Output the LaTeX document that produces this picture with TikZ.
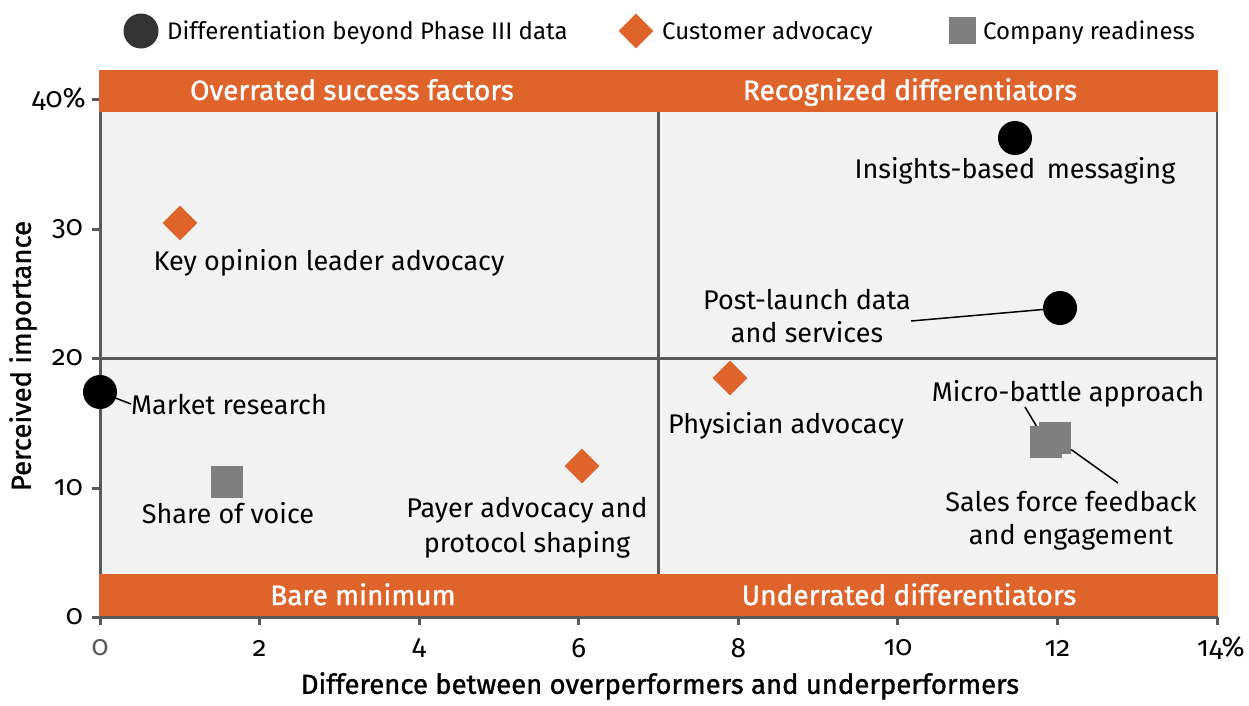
\documentclass[tikz,border=0pt]{standalone}
\usepackage{fontspec}
\setmainfont{Fira Sans}[Numbers=OldStyle]
\newfontfamily\medfont{Fira Sans}[Numbers=OldStyle,FakeBold=1.2]
\usetikzlibrary{shapes.geometric}
\definecolor{org}{HTML}{DF642B}
\definecolor{bg}{HTML}{F2F2F2}
\definecolor{ax}{HTML}{595959}
\definecolor{sq}{HTML}{7F7F7F}
\definecolor{lg}{HTML}{333333}
\begin{document}
\begin{tikzpicture}[x=1pt,y=-1pt,
  lbl/.style={font=\fontsize{27}{33}\selectfont, inner sep=0pt, align=center, text=black},
  lgd/.style={font=\fontsize{24}{29}\selectfont, inner sep=0pt, anchor=base west},
  band/.style={font=\medfont\fontsize{28}{33}\selectfont, inner sep=0pt, text=white, anchor=base},
  tick/.style={font=\fontsize{28}{33}\selectfont, inner sep=0pt},
  atitle/.style={font=\medfont\fontsize{27.5}{32}\selectfont, inner sep=0pt},
  dot/.style={circle, fill=black, minimum size=34pt, inner sep=0pt},
  dia/.style={rectangle, rotate=45, fill=org, minimum size=24.5pt, inner sep=0pt},
  sqr/.style={rectangle, fill=sq, minimum size=32pt, inner sep=0pt},
  grid/.style={draw=ax, line width=3pt},
  lead/.style={draw=black, line width=1.5pt}]
\useasboundingbox (0,0) rectangle (1249,705);
\fill[white] (0,0) rectangle (1249,705);

% legend
\node[circle, fill=lg, minimum size=35pt, inner sep=0pt] (lgc) at (141,31) {};
\node[lgd] (lgct) at (167,39) {Differentiation beyond Phase III data};
\node[rectangle, rotate=45, fill=org, minimum size=24.5pt, inner sep=0pt] (lgd) at (636,31) {};
\node[lgd] (lgdt) at (662,39) {Customer advocacy};
\node[rectangle, fill=sq, minimum size=27pt, inner sep=0pt] (lgs) at (962,30) {};
\node[lgd] (lgst) at (983,39) {Company readiness};

% plot area
\fill[bg] (100,99) rectangle (1217,617);
\draw[grid] (658,112) -- (658,574);
\draw[grid] (100,358) -- (1217,358);
\draw[draw=ax, line width=2pt] (1217,112) -- (1217,617);
\draw[grid] (100,99) -- (100,617) -- (1217,617);
\foreach \y in {99,229,358,488,617} \draw[grid] (92,\y) -- (100,\y);
\foreach \x in {100,259.6,419.1,578.7,738.3,897.9,1057.4,1217} \draw[grid] (\x,617) -- (\x,625);

% bands
\fill[org] (99,70) rectangle (1218,112);
\fill[org] (99,574) rectangle (1218,616);
\node[band] (b1) at (352,100) {Overrated success factors};
\node[band] (b2) at (910,100) {Recognized differentiators};
\node[band] (b3) at (363,605) {Bare minimum};
\node[band] (b4) at (909,605) {Underrated differentiators};

% tick labels
\node[tick, anchor=east] (t40) at (86,99) {40\%};
\node[tick, anchor=east] (t30) at (83,229) {30};
\node[tick, anchor=east] (t20) at (83,358) {20};
\node[tick, anchor=east] (t10) at (83,488) {10};
\node[tick, anchor=east] (t0) at (83,617) {0};
\node[tick, text=ax] (x0) at (100,648) {0};
\node[tick] (x2) at (259.6,648) {2};
\node[tick] (x4) at (419.1,648) {4};
\node[tick] (x6) at (578.7,648) {6};
\node[tick] (x8) at (738.3,648) {8};
\node[tick] (x10) at (897.9,648) {10};
\node[tick] (x12) at (1057.4,648) {12};
\node[tick] (x14) at (1221,648) {14\%};

% axis titles
\node[atitle] (xt) at (660,686) {Difference between overperformers and underperformers};
\node[atitle, rotate=90] (yt) at (23,356) {Perceived importance};

% data markers
\node[dot] (ins) at (1015,138) {};
\node[dot] (pl) at (1060,308) {};
\node[dot] (mr) at (100,392) {};
\node[dia] (kol) at (180,223) {};
\node[dia] (phy) at (730,378) {};
\node[dia] (pay) at (582,466) {};
\node[sqr] (sov) at (227,482) {};
\node[sqr] (sf) at (1055,438) {};
\node[sqr] (mb) at (1046,442) {};

% labels
\node[lbl, anchor=base] (kolt) at (329,270) {Key opinion leader advocacy};
\node[lbl, anchor=base west] (mrt) at (131,414) {Market research};
\node[lbl, anchor=base] (inst) at (1015,178) {Insights-based\, messaging};
\node[lbl, anchor=base] (phyt) at (786,433) {Physician advocacy};
\node[lbl, anchor=base] (mbt) at (1068,401) {Micro-battle approach};
\node[lbl, anchor=base] (sovt) at (228,523) {Share of voice};
\node[lbl] (plt) at (807,316) {Post-launch data\\and services};
\node[lbl] (sft) at (1071,521) {Sales force feedback\\and engagement};
\node[lbl] (payt) at (527,528) {Payer advocacy and\\[2pt]protocol shaping};

% leader lines
\coordinate (plA) at (911,321);
\coordinate (mbA) at (1025,407);
\coordinate (sfA) at (1118,483);
\draw[lead] (plA) -- (pl);
\draw[lead] (mr) -- (mrt.west);
\draw[lead] (mbA) -- (mb);
\draw[lead] (sfA) -- (sf);
\end{tikzpicture}
\end{document}
